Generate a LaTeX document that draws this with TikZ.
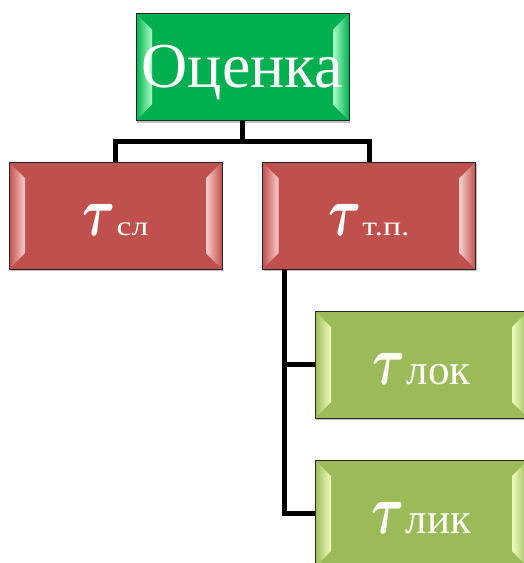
\RequirePackage{fix-cm}
\documentclass[tikz,border=0pt]{standalone}
\usepackage{fontspec}
\setmainfont{Liberation Serif}
\newfontfamily\widefont[FakeStretch=1.25]{Liberation Serif}
\usetikzlibrary{calc,shadows}
\definecolor{ocgreen}{RGB}{0,176,80}
\definecolor{oclight}{RGB}{170,255,200}
\definecolor{redbox}{RGB}{192,80,77}
\definecolor{redlight}{RGB}{250,205,203}
\definecolor{olive}{RGB}{155,187,89}
\definecolor{olivelight}{RGB}{240,252,190}
\newcommand\tauL{{\fontsize{70}{70}\selectfont\scalebox{0.72}[1]{\boldmath$\tau$}}}
\tikzset{
  box/.style 2 args={rectangle, draw=black!85, line width=0.9pt, fill=#1,
    minimum width=213pt, minimum height=107pt, inner sep=0pt, outer sep=0pt,
    text=white, text height=40pt, text depth=0pt,
    drop shadow={shadow xshift=1pt, shadow yshift=-2pt, fill=black, opacity=0.25},
    path picture={
      \coordinate (NW) at (path picture bounding box.north west);
      \coordinate (SW) at (path picture bounding box.south west);
      \coordinate (NE) at (path picture bounding box.north east);
      \coordinate (SE) at (path picture bounding box.south east);
      \shade[left color=#1, right color=#2]
        (NW) -- ($(NW)+(16pt,-16pt)$) -- ($(SW)+(16pt,16pt)$) -- (SW) -- cycle;
      \shade[left color=#2, right color=#1]
        (NE) -- ($(NE)+(-16pt,-16pt)$) -- ($(SE)+(-16pt,16pt)$) -- (SE) -- cycle;
    }},
  conn/.style={line width=5pt, black, line join=miter}
}
\begin{document}
\begin{tikzpicture}[x=1pt,y=-1pt]
\useasboundingbox (0,0) rectangle (523,563);
\node[box={ocgreen}{oclight}] (oc) at (242.5,67) {\fontsize{64}{64}\selectfont Оценка};
\node[box={redbox}{redlight}] (sl) at (115.5,215.5) {\tauL{\fontsize{27}{27}\widefont\selectfont\kern1pt сл}};
\node[box={redbox}{redlight}] (tp) at (369,215.5) {\tauL{\fontsize{27}{27}\widefont\selectfont\kern1pt т.п.}};
\node[box={olive}{olivelight}] (lok) at (421.5,364.5) {\tauL{\fontsize{43}{43}\selectfont\kern1pt лок}};
\node[box={olive}{olivelight}] (lik) at (421.5,513.5) {\tauL{\fontsize{43}{43}\selectfont\kern1pt лик}};
\coordinate (bar) at (0,141.5);
\coordinate (trunk) at ($(tp.south west)+(21.5pt,0)$);
\draw[conn] (oc.south) -- (oc.south |- bar);
\draw[conn] (sl.north) -- (sl.north |- bar) -| (tp.north);
\draw[conn] (trunk) |- (lok.west);
\draw[conn] (trunk) |- (lik.west);
\end{tikzpicture}
\end{document}
